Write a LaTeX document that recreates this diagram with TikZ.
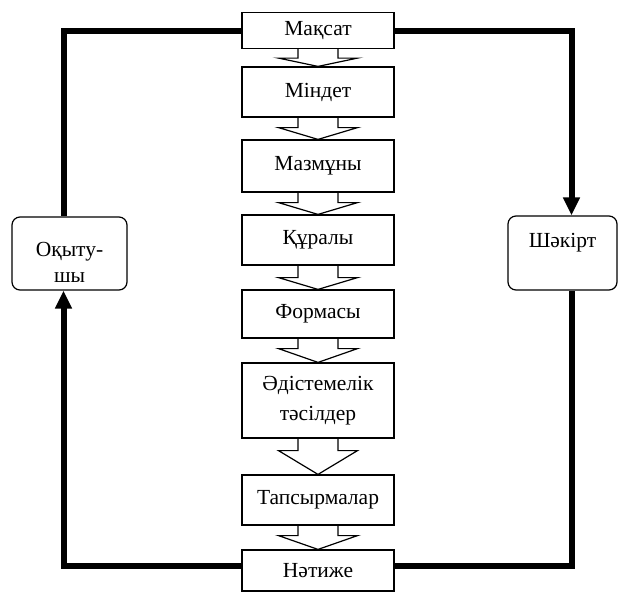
\documentclass[tikz,border=0pt]{standalone}
\usepackage{fontspec}
\setmainfont{Liberation Serif}
\newfontfamily\tnrfont{Liberation Serif}
\usetikzlibrary{arrows.meta,calc}
\newcommand\blockarr[3]{\draw[blk] let \p1=(#1.south), \p2=(#2.north) in
  (\x1-20pt,\y1) -- (\x1-20pt,\y1-#3pt) -- (\x1-39.5pt,\y1-#3pt) -- (\x2,\y2)
  -- (\x1+39.5pt,\y1-#3pt) -- (\x1+20pt,\y1-#3pt) -- (\x1+20pt,\y1);}
\begin{document}
\begin{tikzpicture}[x=1pt,y=-1pt,
  mainbox/.style={draw, line width=1.2pt, minimum width=152pt, inner sep=0pt,
    font=\tnrfont\fontsize{21.5}{30}\selectfont, align=center},
  sidebox/.style={draw, line width=1.2pt, rounded corners=8pt, inner sep=0pt},
  sidetext/.style={font=\tnrfont\fontsize{21.5}{26}\selectfont, align=center, inner sep=0pt},
  blk/.style={line width=1.2pt},
  thick line/.style={line width=6pt},
  arr/.style={-{Triangle[width=16pt,length=18pt]}}]
\useasboundingbox (0,0) rectangle (620,592);
% central column
\node[mainbox, minimum height=36pt] (maqsat) at (318,30.5) {\raisebox{-2pt}{Мақсат}};
\node[mainbox, minimum height=50pt] (mindet) at (318,92) {Міндет};
\node[mainbox, minimum height=52pt] (mazmuny) at (318,166) {Мазмұны};
\node[mainbox, minimum height=50pt] (quraly) at (318,240) {Құралы};
\node[mainbox, minimum height=48pt] (formasy) at (318,314) {Формасы};
\node[mainbox, minimum height=75pt] (adis) at (318,400.5) {Әдістемелік\\тәсілдер};
\node[mainbox, minimum height=50pt] (tapsyrma) at (318,500) {Тапсырмалар};
\node[mainbox, minimum height=41pt] (natije) at (318,570.5) {Нәтиже};
% block arrows
\blockarr{maqsat}{mindet}{9}
\blockarr{mindet}{mazmuny}{10}
\blockarr{mazmuny}{quraly}{10}
\blockarr{quraly}{formasy}{12}
\blockarr{formasy}{adis}{10}
\blockarr{adis}{tapsyrma}{12}
\blockarr{tapsyrma}{natije}{10}
% side boxes
\node[sidebox, minimum width=115pt, minimum height=73pt] (oqytushy) at (69.5,253.5) {};
\node[sidetext] (oqtext) at (69.5,262) {Оқыту-\\шы};
\node[sidebox, minimum width=109pt, minimum height=74pt] (shakirt) at (562.5,253) {};
\node[sidetext] (shtext) at (562.5,243) {Шәкірт};
% corners
\coordinate (tl) at (63.5,30.5);
\coordinate (tr) at (571.5,30.5);
\coordinate (bl) at (63.5,566);
\coordinate (br) at (571.5,566);
% thick connectors
\draw[thick line] (maqsat.west) -- (tl) -- (tl |- oqytushy.north);
\draw[thick line, arr] (natije.west |- bl) -- (bl) -- (bl |- oqytushy.south);
\draw[thick line, arr] (maqsat.east) -- (tr) -- (tr |- shakirt.north);
\draw[thick line] (natije.east |- br) -- (br) -- (br |- shakirt.south);
\end{tikzpicture}
\end{document}
